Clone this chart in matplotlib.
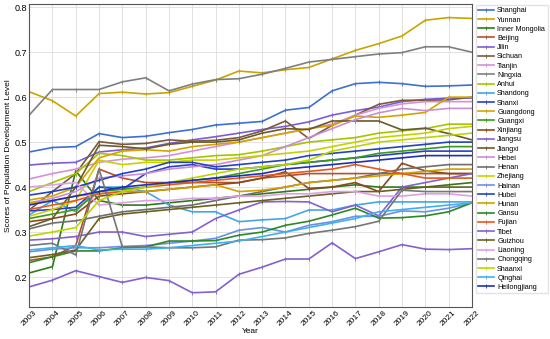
import matplotlib

matplotlib.use("Agg")
import matplotlib.pyplot as plt

plt.rcParams["font.family"] = ["Liberation Sans", "DejaVu Sans"]

years = list(range(2003, 2023))

provinces = [
    "Shanghai", "Yunnan", "Inner Mongolia", "Beijing", "Jilin", "Sichuan",
    "Tianjin", "Ningxia", "Anhui", "Shandong", "Shanxi", "Guangdong",
    "Guangxi", "Xinjiang", "Jiangsu", "Jiangxi", "Hebei", "Henan",
    "Zhejiang", "Hainan", "Hubei", "Hunan", "Gansu", "Fujian", "Tibet",
    "Guizhou", "Liaoning", "Chongqing", "Shaanxi", "Qinghai", "Heilongjiang",
]

colors = [
    "#3f6fd0", "#c9a400", "#2e7a1c", "#b4502e", "#7a5fd4", "#7b5a3c",
    "#d590dc", "#7f7f7f", "#a6c400", "#44a6e6", "#2a40c4", "#d4a300",
    "#3a9a1c", "#8b4a1c", "#8062d2", "#6b5a2e", "#c98ed8", "#6e6e6e",
    "#c9d000", "#6d8fe6", "#2444c0", "#d0a000", "#2a8a24", "#e35a1e",
    "#8460d0", "#6b6020", "#dda0e6", "#767676", "#bcd500", "#3fb0f0",
    "#1e30b8",
]

shanghai = [0.478, 0.488, 0.490, 0.519, 0.510, 0.513, 0.521, 0.528, 0.538, 0.542,
            0.546, 0.571, 0.577, 0.614, 0.630, 0.633, 0.630, 0.624, 0.625, 0.627]
yunnan = [0.612, 0.592, 0.558, 0.608, 0.611, 0.607, 0.610, 0.624, 0.638, 0.658,
          0.654, 0.661, 0.666, 0.685, 0.704, 0.719, 0.736, 0.771, 0.777, 0.775]
inner_mongolia = [0.209, 0.223, 0.436, 0.370, 0.360, 0.360, 0.365, 0.370, 0.375, 0.380,
                  0.385, 0.390, 0.395, 0.400, 0.405, 0.400, 0.400, 0.400, 0.405, 0.410]
beijing = [0.237, 0.245, 0.270, 0.440, 0.420, 0.410, 0.410, 0.410, 0.410, 0.410,
           0.420, 0.425, 0.430, 0.430, 0.430, 0.430, 0.430, 0.430, 0.430, 0.430]
jilin = [0.449, 0.453, 0.455, 0.478, 0.483, 0.487, 0.497, 0.505, 0.512, 0.520,
         0.528, 0.535, 0.545, 0.560, 0.570, 0.578, 0.590, 0.595, 0.598, 0.598]
sichuan = [0.349, 0.390, 0.430, 0.501, 0.495, 0.497, 0.505, 0.502, 0.504, 0.510,
           0.525, 0.547, 0.508, 0.537, 0.560, 0.584, 0.593, 0.593, 0.594, 0.600]
tianjin = [0.418, 0.430, 0.440, 0.455, 0.462, 0.465, 0.470, 0.480, 0.490, 0.500,
           0.510, 0.520, 0.530, 0.540, 0.560, 0.575, 0.585, 0.590, 0.590, 0.590]
ningxia = [0.560, 0.617, 0.617, 0.617, 0.634, 0.643, 0.614, 0.629, 0.639, 0.641,
           0.651, 0.664, 0.678, 0.684, 0.690, 0.696, 0.699, 0.712, 0.712, 0.700]
anhui = [0.390, 0.410, 0.430, 0.475, 0.470, 0.460, 0.460, 0.465, 0.470, 0.472,
         0.480, 0.490, 0.500, 0.505, 0.510, 0.520, 0.525, 0.530, 0.540, 0.540]
shandong = [0.338, 0.370, 0.345, 0.400, 0.400, 0.390, 0.360, 0.345, 0.345, 0.323,
            0.327, 0.330, 0.349, 0.349, 0.360, 0.367, 0.367, 0.367, 0.367, 0.367]
shanxi = [0.347, 0.350, 0.355, 0.400, 0.395, 0.430, 0.445, 0.450, 0.440, 0.440,
          0.445, 0.450, 0.455, 0.460, 0.465, 0.470, 0.475, 0.480, 0.480, 0.480]
guangdong = [0.371, 0.380, 0.400, 0.465, 0.480, 0.483, 0.480, 0.490, 0.495, 0.500,
             0.510, 0.520, 0.530, 0.537, 0.558, 0.555, 0.560, 0.566, 0.600, 0.600]
guangxi = [0.330, 0.340, 0.350, 0.390, 0.395, 0.400, 0.410, 0.415, 0.420, 0.430,
           0.440, 0.450, 0.455, 0.460, 0.465, 0.475, 0.480, 0.485, 0.490, 0.490]
xinjiang = [0.323, 0.330, 0.340, 0.380, 0.385, 0.390, 0.395, 0.400, 0.405, 0.410,
            0.420, 0.434, 0.397, 0.400, 0.410, 0.390, 0.453, 0.436, 0.430, 0.430]
jiangsu = [0.282, 0.285, 0.290, 0.300, 0.300, 0.290, 0.295, 0.300, 0.330, 0.349,
           0.367, 0.368, 0.367, 0.345, 0.360, 0.336, 0.400, 0.410, 0.420, 0.430]
jiangxi = [0.312, 0.330, 0.400, 0.493, 0.490, 0.485, 0.495, 0.500, 0.500, 0.505,
           0.520, 0.530, 0.528, 0.547, 0.547, 0.547, 0.527, 0.531, 0.519, 0.505]
hebei = [0.365, 0.375, 0.390, 0.420, 0.425, 0.430, 0.440, 0.445, 0.450, 0.460,
         0.470, 0.490, 0.510, 0.530, 0.550, 0.565, 0.575, 0.570, 0.575, 0.575]
henan = [0.307, 0.320, 0.325, 0.335, 0.345, 0.350, 0.355, 0.360, 0.370, 0.380,
         0.390, 0.400, 0.410, 0.415, 0.420, 0.430, 0.440, 0.445, 0.450, 0.450]
zhejiang = [0.335, 0.350, 0.370, 0.460, 0.450, 0.455, 0.455, 0.460, 0.460, 0.465,
            0.470, 0.475, 0.480, 0.490, 0.500, 0.510, 0.515, 0.520, 0.530, 0.535]
hainan = [0.256, 0.262, 0.265, 0.265, 0.268, 0.270, 0.275, 0.280, 0.286, 0.304,
          0.310, 0.300, 0.315, 0.323, 0.335, 0.335, 0.347, 0.345, 0.353, 0.365]
hubei = [0.382, 0.390, 0.400, 0.415, 0.430, 0.440, 0.455, 0.455, 0.445, 0.450,
         0.455, 0.460, 0.470, 0.475, 0.480, 0.485, 0.490, 0.495, 0.500, 0.500]
hunan = [0.364, 0.370, 0.380, 0.385, 0.390, 0.390, 0.395, 0.400, 0.405, 0.390,
         0.393, 0.400, 0.410, 0.415, 0.420, 0.425, 0.430, 0.435, 0.440, 0.440]
gansu = [0.232, 0.245, 0.258, 0.258, 0.265, 0.267, 0.280, 0.280, 0.281, 0.293,
         0.300, 0.315, 0.324, 0.338, 0.353, 0.331, 0.332, 0.336, 0.345, 0.365]
fujian = [0.350, 0.360, 0.370, 0.385, 0.390, 0.400, 0.405, 0.410, 0.415, 0.420,
          0.425, 0.430, 0.435, 0.440, 0.450, 0.440, 0.430, 0.420, 0.420, 0.420]
tibet = [0.178, 0.193, 0.214, 0.201, 0.188, 0.199, 0.192, 0.165, 0.167, 0.206,
         0.222, 0.240, 0.240, 0.276, 0.241, 0.256, 0.272, 0.262, 0.261, 0.263]
guizhou = [0.243, 0.250, 0.260, 0.330, 0.340, 0.345, 0.350, 0.355, 0.360, 0.365,
           0.370, 0.375, 0.380, 0.385, 0.390, 0.390, 0.395, 0.400, 0.400, 0.400]
liaoning = [0.400, 0.405, 0.410, 0.360, 0.365, 0.370, 0.370, 0.375, 0.375, 0.380,
            0.380, 0.385, 0.385, 0.390, 0.390, 0.380, 0.380, 0.385, 0.385, 0.380]
chongqing = [0.270, 0.275, 0.249, 0.440, 0.267, 0.267, 0.265, 0.265, 0.267, 0.282,
             0.283, 0.287, 0.297, 0.304, 0.312, 0.324, 0.393, 0.390, 0.390, 0.390]
shaanxi = [0.291, 0.300, 0.310, 0.370, 0.390, 0.400, 0.410, 0.420, 0.430, 0.440,
           0.445, 0.450, 0.460, 0.480, 0.490, 0.500, 0.505, 0.510, 0.515, 0.520]
qinghai = [0.260, 0.265, 0.270, 0.260, 0.262, 0.262, 0.265, 0.270, 0.275, 0.280,
           0.290, 0.300, 0.310, 0.320, 0.330, 0.345, 0.350, 0.355, 0.360, 0.365]
heilongjiang = [0.360, 0.370, 0.380, 0.390, 0.400, 0.405, 0.410, 0.415, 0.420, 0.425,
                0.430, 0.440, 0.445, 0.450, 0.455, 0.460, 0.465, 0.470, 0.470, 0.470]

series = [
    shanghai, yunnan, inner_mongolia, beijing, jilin, sichuan, tianjin, ningxia,
    anhui, shandong, shanxi, guangdong, guangxi, xinjiang, jiangsu, jiangxi,
    hebei, henan, zhejiang, hainan, hubei, hunan, gansu, fujian, tibet,
    guizhou, liaoning, chongqing, shaanxi, qinghai, heilongjiang,
]

fig = plt.figure(figsize=(5.5, 3.39), dpi=100)
ax = fig.add_axes([0.053, 0.094, 0.805, 0.894])

for name, vals, c in zip(provinces, series, colors):
    ax.plot(years, vals, color=c, lw=1.2, marker="|", markersize=2.5,
            markeredgewidth=0.6, label=name)

ax.set_xlim(2003, 2022)
ax.set_ylim(0.133, 0.807)
ax.set_xticks(years)
ax.set_xticklabels([str(y) for y in years], rotation=45, fontsize=6)
ax.set_yticks([0.2, 0.3, 0.4, 0.5, 0.6, 0.7, 0.8])
ax.set_yticklabels(["0.2", "0.3", "0.4", "0.5", "0.6", "0.7", "0.8"], fontsize=6.5)
ax.tick_params(length=0, pad=1.5)
ax.grid(True, color="#dddddd", lw=0.6)
for s in ax.spines.values():
    s.set_color("#555555")
    s.set_linewidth(0.8)

ax.set_xlabel("Year", fontsize=6, labelpad=0)
ax.set_ylabel("Scores of Population Development Level", fontsize=6, labelpad=2)

ax.legend(loc="upper left", bbox_to_anchor=(1.004, 1.005), fontsize=5.2,
          handlelength=2.1, labelspacing=0.3, borderpad=0.35,
          handletextpad=0.5, borderaxespad=0.3, frameon=True,
          edgecolor="#dddddd", fancybox=False)

fig.savefig("out.png", dpi=100)
